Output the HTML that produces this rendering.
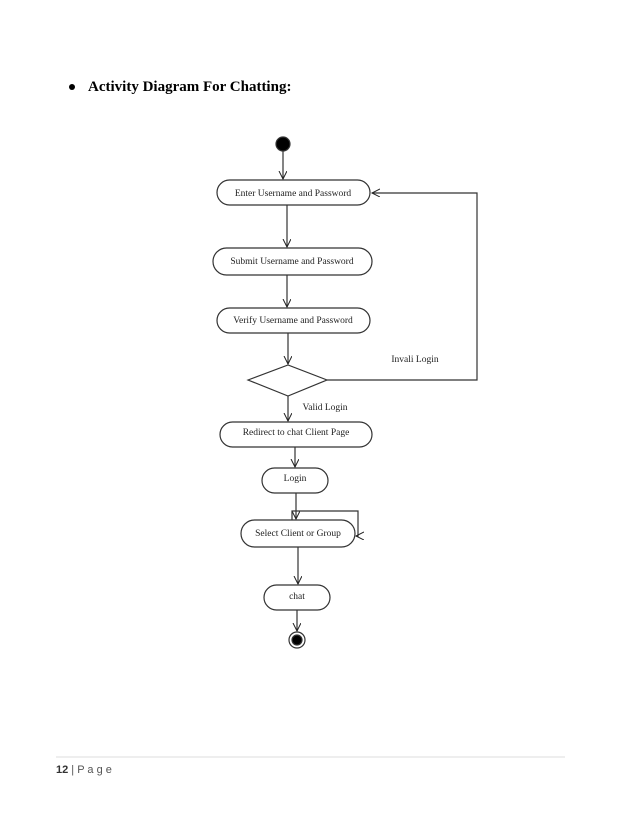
<!DOCTYPE html>
<html><head><style>
body{margin:0;width:638px;height:826px;background:#fff;position:relative;overflow:hidden}
.h{position:absolute;left:88px;top:79px;font:bold 15px "Liberation Serif",serif;color:#000}
.b{position:absolute;left:69px;top:84px;width:6px;height:6px;border-radius:50%;background:#000}
.f{position:absolute;left:56px;top:764px;font:11px "Liberation Sans",sans-serif;color:#555;letter-spacing:0}
</style></head><body>
<div class="b"></div><div class="h">Activity Diagram For Chatting:</div>
<svg width="638" height="826" style="position:absolute;left:0;top:0" font-family="Liberation Serif,serif" font-size="9.5" fill="none">
<defs><marker id="a" markerWidth="10" markerHeight="10" refX="8" refY="4" orient="auto" markerUnits="userSpaceOnUse"><path d="M0,0 L8,4 L0,8" stroke="#222" fill="none"/></marker></defs>
<g stroke="#333" stroke-width="1.2">
<circle cx="283" cy="144" r="7" fill="#000"/>
<line x1="283" y1="151" x2="283" y2="179" marker-end="url(#a)"/>
<rect x="217" y="180" width="153" height="25" rx="12.5" fill="#fff"/>
<line x1="287" y1="205" x2="287" y2="247" marker-end="url(#a)"/>
<rect x="213" y="248" width="159" height="27" rx="13.5" fill="#fff"/>
<line x1="287" y1="275" x2="287" y2="307" marker-end="url(#a)"/>
<rect x="217" y="308" width="153" height="25" rx="12.5" fill="#fff"/>
<line x1="288" y1="333" x2="288" y2="364" marker-end="url(#a)"/>
<polygon points="248,380 288,365 327,380 288,396" fill="#fff"/>
<polyline points="327,380 477,380 477,193 372,193" marker-end="url(#a)"/>
<line x1="288" y1="396" x2="288" y2="421" marker-end="url(#a)"/>
<rect x="220" y="422" width="152" height="25" rx="12.5" fill="#fff"/>
<line x1="295" y1="447" x2="295" y2="467" marker-end="url(#a)"/>
<rect x="262" y="468" width="66" height="25" rx="12.5" fill="#fff"/>
<line x1="296" y1="493" x2="296" y2="519" marker-end="url(#a)"/>
<polyline points="292,520 292,511 358,511 358,536 356,536" marker-end="url(#a)"/>
<rect x="241" y="520" width="114" height="27" rx="13.5" fill="#fff"/>
<line x1="298" y1="547" x2="298" y2="584" marker-end="url(#a)"/>
<rect x="264" y="585" width="66" height="25" rx="12.5" fill="#fff"/>
<line x1="297" y1="610" x2="297" y2="631" marker-end="url(#a)"/>
<circle cx="297" cy="640" r="8" fill="#fff"/>
<circle cx="297" cy="640" r="5" fill="#000"/>
<line x1="56" y1="757" x2="565" y2="757" stroke="#ddd" stroke-width="1"/>
</g>
<g fill="#222" text-anchor="middle">
<text x="293" y="196">Enter Username and Password</text>
<text x="292" y="264">Submit Username and Password</text>
<text x="293" y="323">Verify Username and Password</text>
<text x="296" y="435">Redirect to chat Client  Page</text>
<text x="295" y="481">Login</text>
<text x="298" y="536">Select Client or Group</text>
<text x="297" y="599">chat</text>
<text x="415" y="362">Invali Login</text>
<text x="325" y="410">Valid Login</text>
</g>
</svg>
<div class="f"><b style="color:#333">12</b> | P a g e</div>
</body></html>
